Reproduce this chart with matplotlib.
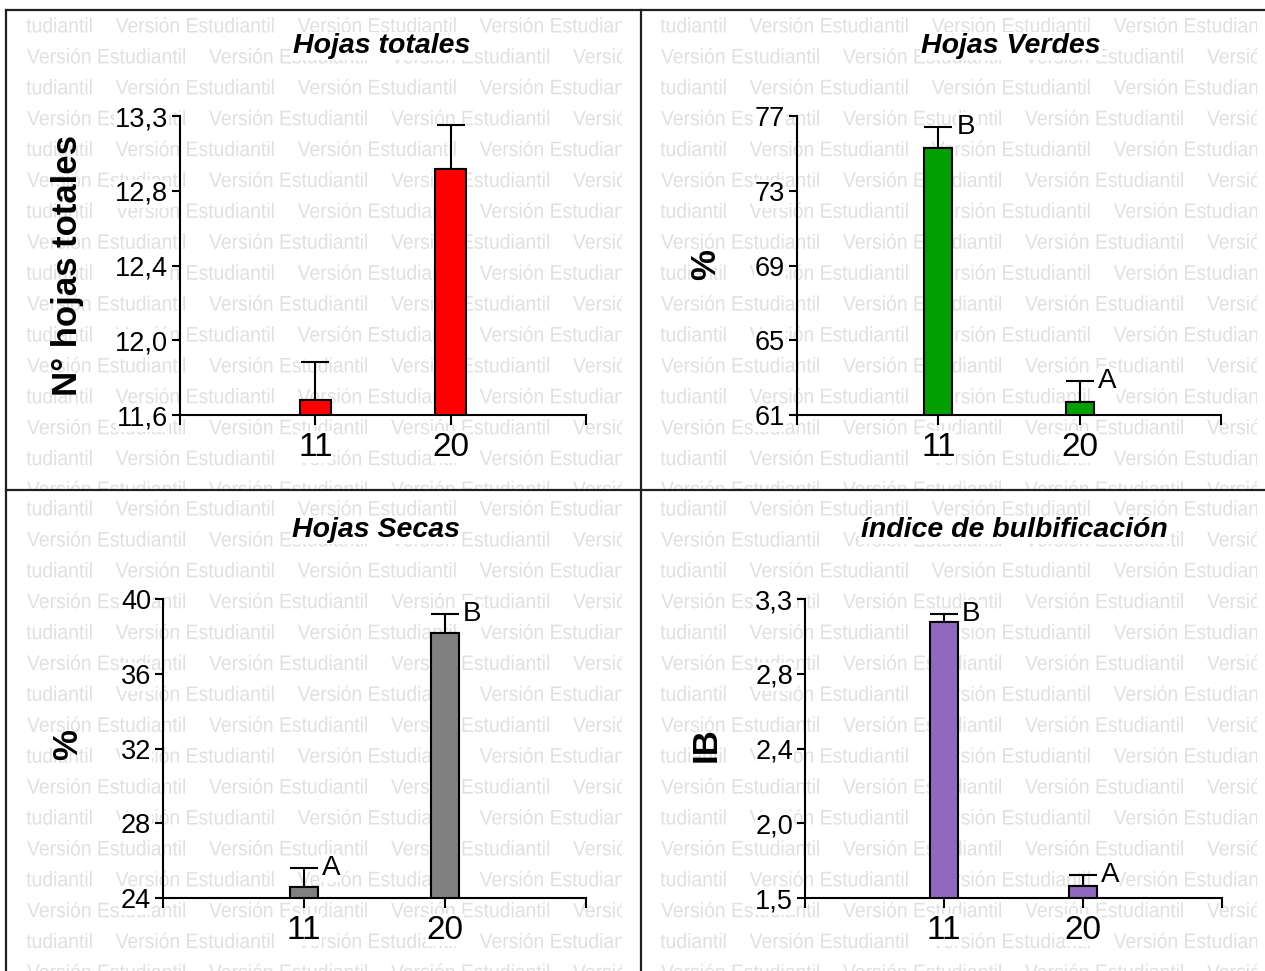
import numpy as np
import matplotlib
matplotlib.use("Agg")
import matplotlib.pyplot as plt
from matplotlib.font_manager import FontProperties
from matplotlib.textpath import TextPath
from matplotlib.patches import PathPatch
from matplotlib.transforms import Affine2D

# bar values (mean and upper error) for the two groups
categories = ["11", "20"]

totales = [11.685, 13.00]
totales_err = [0.215, 0.25]

verdes = [75.3, 61.7]
verdes_err = [1.1, 1.1]
verdes_letters = ["B", "A"]

secas = [24.6, 38.2]
secas_err = [1.0, 1.0]
secas_letters = ["A", "B"]

ib = [3.16, 1.57]
ib_err = [0.05, 0.07]
ib_letters = ["B", "A"]

totales_ticks = ["11,6", "12,0", "12,4", "12,8", "13,3"]
verdes_ticks = ["61", "65", "69", "73", "77"]
secas_ticks = ["24", "28", "32", "36", "40"]
ib_ticks = ["1,5", "2,0", "2,4", "2,8", "3,3"]

W, H = 1265, 971
FONT = "Liberation Sans"

fig = plt.figure(figsize=(W / 100, H / 100), dpi=100)
fig.patch.set_facecolor("white")


def fx(x):
    return x / W


def fy(y):
    return 1 - y / H


def rect(left, top, right, bottom):
    return [fx(left), fy(bottom), (right - left) / W, (bottom - top) / H]


# background stamp, drawn as a squeezed text path so it looks condensed
STAMP = "Versión Estudiantil"
stamp_prop = FontProperties(family=FONT)
stamp_path = TextPath((0, 0), STAMP, size=21, prop=stamp_prop)
stamp_sx = 158 / stamp_path.get_extents().x1
# where the "Es" part ends, so shifted rows begin cleanly at "tudiantil"
head_end = TextPath((0, 0), "Versión Es", size=21, prop=stamp_prop).get_extents().x1 * stamp_sx


def stamp(left, top, right, bottom, ox, y0):
    bg = fig.add_axes(rect(left, top, right, bottom), zorder=0)
    bg.axis("off")
    for i in range(16):
        base = y0 + i * 30.9 + 7.5
        if i % 2 == 0:
            start = ox - head_end - 1.5
            xs = [start + 182 * k for k in range(5)]
        else:
            xs = [ox + 182 * k for k in range(4)]
        for x in xs:
            tr = Affine2D().scale(stamp_sx, 1).translate(x, H - base)
            p = PathPatch(stamp_path, transform=tr, facecolor="#e0e0e0",
                          edgecolor="none", linewidth=0)
            bg.add_artist(p)


stamp(26, 11, 622, 489, 27, 25)
stamp(660, 11, 1257, 489, 661, 25)
stamp(26, 491, 622, 971, 27, 508)
stamp(660, 491, 1257, 971, 661, 508)


def panel(box, values, errs, color, ylim, ticklabels, letters, width,
          title, title_xy, ylabel, ylabel_xy):
    ax = fig.add_axes(rect(*box), zorder=2)
    ax.set_facecolor("none")
    x = np.arange(1, len(values) + 1)
    base = ylim[0]
    ax.bar(x, np.array(values) - base, bottom=base, width=width, color=color,
           edgecolor="black", linewidth=1.5, zorder=3)
    ax.errorbar(x, values, yerr=[np.zeros(len(errs)), errs], fmt="none",
                ecolor="black", elinewidth=1.5, capsize=10, capthick=1.5, zorder=2)
    if letters:
        for xi, v, e, lab in zip(x, values, errs, letters):
            t = ax.annotate(lab, (xi, v + e), xytext=(13, 0), textcoords="offset points",
                            ha="left", va="center", family=FONT, fontsize=20, zorder=4)
            t.set_bbox(dict(facecolor="white", edgecolor="none", pad=0.5))

    ax.set_xlim(0, 3)
    ax.set_ylim(*ylim)
    ax.set_yticks(np.linspace(ylim[0], ylim[1], len(ticklabels)))
    ax.set_yticklabels(ticklabels, family=FONT, fontsize=19.5)
    ax.set_xticks([0, 1, 2, 3])
    ax.set_xticklabels([""] + categories + [""], family=FONT, fontsize=24)
    for lbl in ax.get_yticklabels() + ax.get_xticklabels():
        lbl.set_bbox(dict(facecolor="white", edgecolor="none", pad=0.5))
    ax.tick_params(axis="y", direction="out", length=6, width=1.5, pad=2.5)
    ax.tick_params(axis="x", direction="out", length=7, width=1.5, pad=5)
    for side in ["top", "right"]:
        ax.spines[side].set_visible(False)
    for side in ["left", "bottom"]:
        ax.spines[side].set_linewidth(1.5)

    fig.text(fx(title_xy[0]), fy(title_xy[1]), title, family=FONT, fontsize=20.5,
             fontweight="bold", fontstyle="italic", ha="center", va="center", zorder=3,
             bbox=dict(facecolor="white", edgecolor="none", pad=1))
    fig.text(fx(ylabel_xy[0]), fy(ylabel_xy[1]), ylabel, family=FONT, fontsize=25,
             fontweight="bold", rotation=90, ha="center", va="center", zorder=3)
    return ax


panel((180, 116, 586, 415), totales, totales_err, "#ff0000", (11.6, 13.3),
      totales_ticks, None, 0.23, "Hojas totales", (382, 46),
      "N° hojas totales", (68, 265))
panel((797, 116, 1221, 415), verdes, verdes_err, "#00a000", (61, 77),
      verdes_ticks, verdes_letters, 0.2, "Hojas Verdes", (1011, 46),
      "%", (706, 265))
panel((163, 599, 586, 898), secas, secas_err, "#808080", (24, 40),
      secas_ticks, secas_letters, 0.2, "Hojas Secas", (376, 530),
      "%", (68, 745))
panel((805, 599, 1222, 898), ib, ib_err, "#9068c0", (1.5, 3.3),
      ib_ticks, ib_letters, 0.2, "índice de bulbificación", (1014, 530),
      "IB", (706, 745))

# frame and dividers between the four panels
line_kw = dict(color="#202020", linewidth=1.6, transform=fig.transFigure, zorder=5)
fig.add_artist(plt.Line2D([fx(6), fx(6)], [fy(10), 0], **line_kw))
fig.add_artist(plt.Line2D([fx(6), 1], [fy(10), fy(10)], **line_kw))
fig.add_artist(plt.Line2D([fx(641), fx(641)], [fy(10), 0], **line_kw))
fig.add_artist(plt.Line2D([fx(6), 1], [fy(490), fy(490)], **line_kw))

fig.savefig("out.png", dpi=100, facecolor="white")
